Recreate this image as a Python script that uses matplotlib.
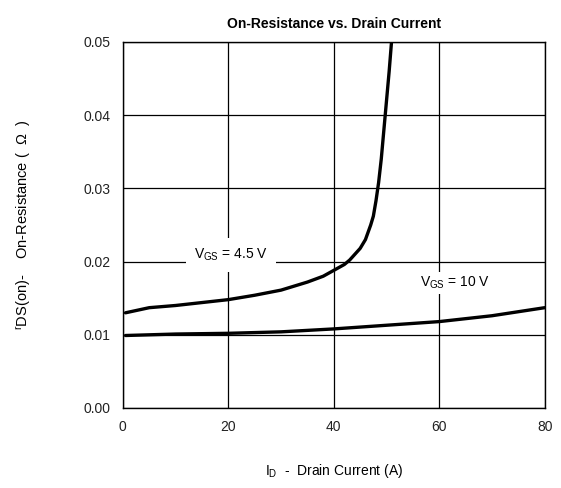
import matplotlib.pyplot as plt

plt.rcParams['font.family'] = ['Liberation Sans', 'DejaVu Sans']
plt.rcParams['mathtext.fontset'] = 'custom'
plt.rcParams['mathtext.rm'] = 'Liberation Sans'
plt.rcParams['mathtext.it'] = 'Liberation Sans'

# V_GS = 4.5 V curve
id_45 = [0.5, 5, 10, 15, 20, 25, 30, 35, 38, 40, 42, 43, 44, 45, 46, 47, 47.5,
         48, 48.5, 49, 49.5, 50, 50.5, 51]
r_45 = [0.0130, 0.0137, 0.0140, 0.0144, 0.0148, 0.0154, 0.0161, 0.0172, 0.0180,
        0.0188, 0.0196, 0.0202, 0.0210, 0.0218, 0.0230, 0.0250, 0.0262,
        0.0283, 0.0308, 0.0340, 0.0380, 0.0420, 0.0460, 0.0505]

# V_GS = 10 V curve
id_10 = [0.5, 10, 20, 30, 40, 50, 60, 70, 80]
r_10 = [0.0099, 0.0101, 0.0102, 0.0104, 0.0108, 0.0113, 0.0118, 0.0126, 0.0137]

xticks = [0, 20, 40, 60, 80]
yticks = [0.00, 0.01, 0.02, 0.03, 0.04, 0.05]

fig = plt.figure(figsize=(5.61, 4.88), dpi=100)
ax = fig.add_axes([0.219, 0.164, 0.752, 0.750])

ax.plot(id_45, r_45, color='black', lw=2.4, solid_capstyle='round',
        solid_joinstyle='round', zorder=3)
ax.plot(id_10, r_10, color='black', lw=2.4, solid_capstyle='round', zorder=3)

ax.set_xlim(0, 80)
ax.set_ylim(0, 0.05)
ax.set_xticks(xticks)
ax.set_yticks(yticks)
ax.set_xticklabels([str(v) for v in xticks])
ax.set_yticklabels(['%.2f' % v for v in yticks])
ax.grid(True, color='black', lw=0.9)
ax.tick_params(length=0, labelsize=10, pad=9, colors='#222222')
for s in ax.spines.values():
    s.set_linewidth(1.0)

ax.text(20.5, 0.0209, r'V$_{\rm GS}$ = 4.5 V', fontsize=10, ha='center', va='center',
        bbox=dict(facecolor='white', edgecolor='none', pad=6), zorder=2)
ax.text(63, 0.0171, r'V$_{\rm GS}$ = 10 V', fontsize=10, ha='center', va='center',
        bbox=dict(facecolor='white', edgecolor='none', pad=2), zorder=2)

ax.set_title('On-Resistance vs. Drain Current', fontsize=10, fontweight='bold', pad=10)
ax.set_xlabel(r'I$_{\rm D}$  -  Drain Current (A)', fontsize=10, labelpad=20)
ax.set_ylabel(r'$^{\rm r}$DS(on)-    On-Resistance (  Ω  )', fontsize=10.5)
ax.yaxis.set_label_coords(-0.212, 0.5)

fig.savefig('out.png', dpi=100)
